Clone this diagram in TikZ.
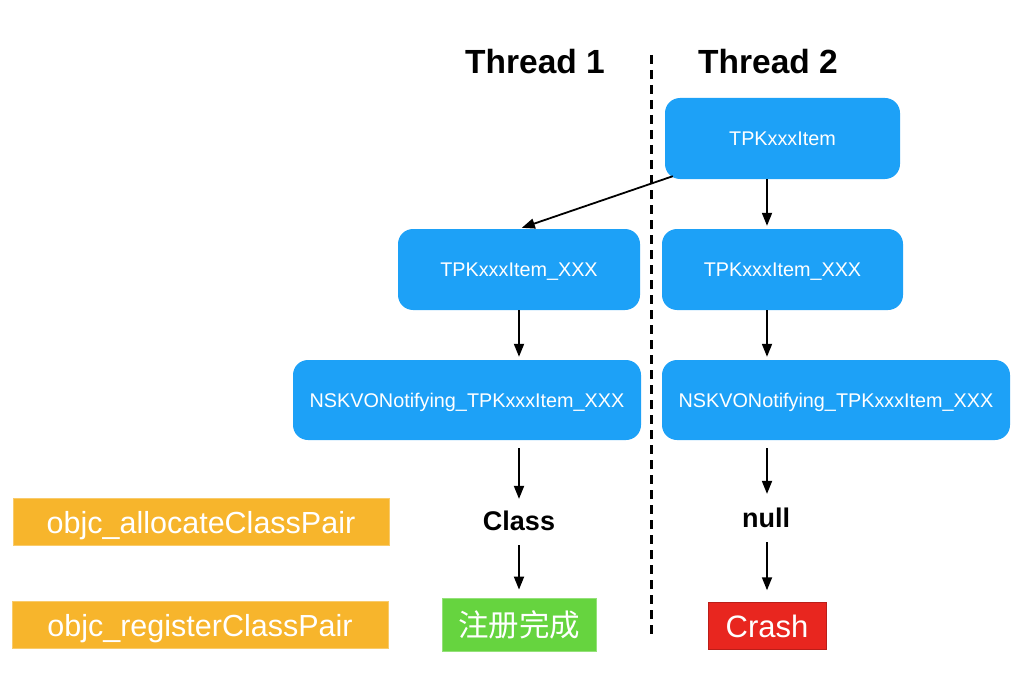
\documentclass[tikz,border=0pt]{standalone}
\usepackage{fontspec}
\setmainfont{Liberation Sans}
\newfontfamily\cjk{Noto Sans CJK SC}
\usetikzlibrary{arrows.meta}
\definecolor{boxblue}{HTML}{1DA1F7}
\definecolor{boxorange}{HTML}{F7B52C}
\definecolor{boxgreen}{HTML}{66D43F}
\definecolor{boxred}{HTML}{E8261F}
\begin{document}
\begin{tikzpicture}[x=1pt,y=-1pt,
  bluebox/.style={text height=14.3pt, text depth=0pt, fill=boxblue, rounded corners=15pt, text=white, font=\fontsize{19.8}{23}\selectfont, inner sep=0pt, minimum height=81pt},
  apibox/.style={text height=22pt, text depth=0pt, fill=boxorange, draw=boxorange!70!white, line width=0.8pt, text=white, font=\fontsize{30.5}{34}\selectfont, inner sep=0pt, minimum width=376pt, minimum height=47pt},
  resbox/.style={text=white, inner sep=0pt},
  title/.style={font=\fontsize{33.5}{40}\selectfont\bfseries},
  val/.style={font=\fontsize{27}{31}\selectfont\bfseries, inner sep=0pt},
  arr/.style={line width=1.8pt, -{Triangle[length=13pt,width=10pt]}, shorten >=3pt}
]
\useasboundingbox (0,0) rectangle (1024,695);

\coordinate (c1) at (519,0);
\coordinate (c2) at (767,0);
\coordinate (dtop) at (651,55);
\coordinate (dbot) at (651,637);
\draw[line width=3pt, dash pattern=on 9pt off 6pt] (dtop) -- (dbot);

\node[title] (th1) at (535,62) {Thread 1};
\node[title] (th2) at (768,62) {Thread 2};

\node[bluebox, minimum width=235pt] (t2top) at (782.5,138.5) {TPKxxxItem};
\node[bluebox, minimum width=242pt] (t1mid) at (519,269.5) {TPKxxxItem\_XXX};
\node[bluebox, minimum width=241pt] (t2mid) at (782.5,269.5) {TPKxxxItem\_XXX};
\node[bluebox, minimum width=348pt, minimum height=80pt] (t1nsk) at (467,400) {NSKVONotifying\_TPKxxxItem\_XXX};
\node[bluebox, minimum width=348pt, minimum height=80pt] (t2nsk) at (836,400) {NSKVONotifying\_TPKxxxItem\_XXX};

\node[val] (cls) at (519,521) {Class};
\node[val] (nul) at (766,518) {null};

\node[apibox] (alloc) at (201,522) {objc\_allocateClassPair};
\node[apibox] (reg) at (200,625) {objc\_registerClassPair};

\node[resbox, fill=boxgreen, draw=boxgreen!70!white, line width=0.8pt, minimum width=154pt, minimum height=53pt, font=\cjk\fontsize{30.5}{34}\selectfont] (done) at (519,624.5) {注册完成};
\node[resbox, text height=22.3pt, text depth=0pt, fill=boxred, draw=boxred!80!black, line width=0.5pt, minimum width=118pt, minimum height=47pt, font=\fontsize{31}{35}\selectfont] (crash) at (767,626) {Crash};

\draw[arr] ([xshift=8pt,yshift=3pt]t2top.south west) -- (t1mid.north);
\draw[arr] (t2top.south -| c2) -- (t2mid.north -| c2);
\draw[arr] (t1mid.south -| c1) -- (t1nsk.north -| c1);
\draw[arr] (t2mid.south -| c2) -- (t2nsk.north -| c2);
\draw[arr, shorten <=8pt, shorten >=12pt] (t1nsk.south -| c1) -- (cls.north -| c1);
\draw[arr, shorten <=8pt, shorten >=14pt] (t2nsk.south -| c2) -- (nul.north -| c2);
\draw[arr, shorten <=14pt, shorten >=8pt] (cls.south -| c1) -- (done.north -| c1);
\draw[arr, shorten <=14pt, shorten >=12pt] (nul.south -| c2) -- (crash.north -| c2);
\end{tikzpicture}
\end{document}
